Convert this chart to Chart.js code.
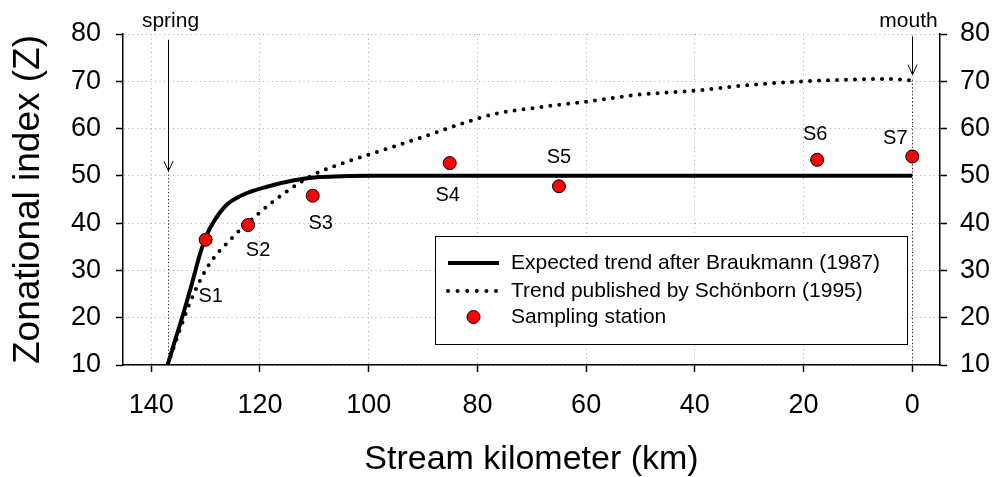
<!DOCTYPE html>
<html lang="en">
<head>
<meta charset="UTF-8">
<title>Zonational index along the stream</title>
<script src="https://cdn.jsdelivr.net/npm/chart.js@4"></script>
<style>
    html, body { margin: 0; padding: 0; background: #fff; }
    .chart-box { width: 1000px; height: 477px; }
</style>
</head>
<body>
<div class="chart-box"><canvas id="zoneChart" width="1000" height="477"></canvas></div>
<script>
    // values (stream km, 0 = mouth)
    const braukmannKm = [137, 135.6, 134.1, 132.5, 131, 129.8, 128.3, 126.1, 123.1, 118.7, 113.9, 109.6, 105, 100, 80, 60, 40, 20, 0];
    const braukmannZ = [10, 15.3, 20.9, 27.3, 33.6, 37.5, 40.7, 43.9, 46.0, 47.7, 49.0, 49.7, 49.9, 50, 50, 50, 50, 50, 50];
    const schoenbornKm = [137, 135.3, 132.8, 129.5, 125.2, 120.2, 115.1, 110.2, 103.4, 96.7, 90.1, 83.5, 76.8, 70, 60, 50, 40, 30, 20, 10, 5, 0];
    const schoenbornZ = [10, 15.6, 23.4, 31.0, 36.8, 42.1, 46.7, 50.2, 53.2, 55.7, 58.2, 60.8, 63.1, 64.3, 65.7, 67.2, 68.0, 69.2, 70.0, 70.4, 70.5, 70.2];
    const stationNames = ['S1', 'S2', 'S3', 'S4', 'S5', 'S6', 'S7'];
    const stationKm = [130, 122.2, 110.3, 85.1, 65, 17.5, 0];
    const stationZ = [36.5, 39.6, 45.8, 52.7, 47.8, 53.4, 54.1];
    const xTicks = [0, 20, 40, 60, 80, 100, 120, 140];
    const yTicks = [10, 20, 30, 40, 50, 60, 70, 80];
    const markerNames = ['spring', 'mouth'];
    const markerKm = [137, 0];
    const markerArrowTop = [78.8, 79.5];
    const markerArrowTip = [51, 71.4];
    const markerLineTop = [51, 70.2];

    // label placement (px from the point / arrow)
    const labelOffsets = [[5, 57], [10, 25], [8, 28], [-2, 32], [0, -29], [-2, -25], [-17, -18]];
    const markerTextDx = [2, -4];

    const FONT = '"Liberation Sans", Arial, sans-serif';

    const toPoints = (xs, ys) => xs.map((v, i) => ({ x: v, y: ys[i] }));

    const annotate = {
        id: 'annotate',
        afterDatasetsDraw(chart) {
            const { ctx, chartArea, scales: { x, y } } = chart;
            ctx.save();
            ctx.fillStyle = '#000';
            ctx.strokeStyle = '#000';

            // station labels
            ctx.font = '20px ' + FONT;
            ctx.textAlign = 'center';
            ctx.textBaseline = 'middle';
            stationNames.forEach((name, i) => {
                ctx.fillText(name,
                    x.getPixelForValue(stationKm[i]) + labelOffsets[i][0],
                    y.getPixelForValue(stationZ[i]) + labelOffsets[i][1]);
            });

            // spring / mouth arrows
            markerNames.forEach((name, i) => {
                const px = Math.round(x.getPixelForValue(markerKm[i])) + 0.5;
                const top = y.getPixelForValue(markerArrowTop[i]);
                const tip = y.getPixelForValue(markerArrowTip[i]);
                ctx.lineWidth = 1;
                ctx.setLineDash([]);
                ctx.beginPath();
                ctx.moveTo(px, top);
                ctx.lineTo(px, tip);
                ctx.moveTo(px - 4.5, tip - 10);
                ctx.lineTo(px, tip);
                ctx.lineTo(px + 4.5, tip - 10);
                ctx.stroke();
                ctx.setLineDash([1, 2.5]);
                ctx.beginPath();
                ctx.moveTo(px, y.getPixelForValue(markerLineTop[i]));
                ctx.lineTo(px, chartArea.bottom);
                ctx.stroke();
                ctx.setLineDash([]);
                ctx.font = '21px ' + FONT;
                ctx.textAlign = 'center';
                ctx.textBaseline = 'alphabetic';
                ctx.fillText(name, px + markerTextDx[i], 27);
            });

            // legend box
            const box = { left: 435.5, top: 236.5, right: 907.5, bottom: 344.5 };
            ctx.fillStyle = '#fff';
            ctx.fillRect(box.left, box.top, box.right - box.left, box.bottom - box.top);
            ctx.lineWidth = 1;
            ctx.strokeRect(box.left, box.top, box.right - box.left, box.bottom - box.top);

            const ds = chart.data.datasets;
            const rows = [263, 291, 317];
            const sx0 = 448, sx1 = 499, tx = 511;

            ctx.lineCap = 'butt';
            ctx.lineWidth = 4;
            ctx.beginPath();
            ctx.moveTo(sx0, rows[0]);
            ctx.lineTo(sx1, rows[0]);
            ctx.stroke();

            ctx.lineWidth = 4;
            ctx.lineCap = 'round';
            ctx.setLineDash([0, 9.6]);
            ctx.beginPath();
            ctx.moveTo(sx0, rows[1]);
            ctx.lineTo(sx1, rows[1]);
            ctx.stroke();
            ctx.setLineDash([]);

            ctx.fillStyle = '#ff0000';
            ctx.lineWidth = 1;
            ctx.beginPath();
            ctx.arc((sx0 + sx1) / 2, rows[2], 6.5, 0, Math.PI * 2);
            ctx.fill();
            ctx.stroke();

            ctx.fillStyle = '#000';
            ctx.font = '21px ' + FONT;
            ctx.textAlign = 'left';
            ctx.textBaseline = 'middle';
            ctx.fillText(ds[1].label, tx, rows[0]);
            ctx.fillText(ds[2].label, tx, rows[1]);
            ctx.fillText(ds[0].label, tx, rows[2]);
            ctx.restore();
        }
    };

    const tickFont = { family: FONT, size: 27 };
    const gridStyle = { color: '#aaaaaa', lineWidth: 1, tickColor: '#000', tickLength: 7, tickWidth: 1.5 };
    const borderStyle = { color: '#000', width: 1.5, dash: [1, 3.5] };

    new Chart(document.getElementById('zoneChart'), {
        type: 'line',
        data: {
            datasets: [{
                label: 'Sampling station',
                data: toPoints(stationKm, stationZ),
                showLine: false,
                pointRadius: 6.5,
                pointBackgroundColor: '#ff0000',
                pointBorderColor: '#000',
                pointBorderWidth: 1,
                order: 0
            }, {
                label: 'Expected trend after Braukmann (1987)',
                data: toPoints(braukmannKm, braukmannZ),
                borderColor: '#000',
                borderWidth: 4,
                pointRadius: 0,
                cubicInterpolationMode: 'monotone',
                order: 1
            }, {
                label: 'Trend published by Schönborn (1995)',
                data: toPoints(schoenbornKm, schoenbornZ),
                borderColor: '#000',
                borderWidth: 4,
                borderDash: [0, 9],
                borderCapStyle: 'round',
                pointRadius: 0,
                cubicInterpolationMode: 'monotone',
                order: 2
            }]
        },
        options: {
            responsive: false,
            animation: false,
            devicePixelRatio: 1,
            layout: { padding: { top: 34, left: 0, right: 0, bottom: 0 } },
            plugins: { legend: { display: false }, tooltip: { enabled: false } },
            scales: {
                x: {
                    type: 'linear',
                    reverse: true,
                    min: -5.1,
                    max: 145.2,
                    afterBuildTicks: s => { s.ticks = xTicks.map(v => ({ value: v })); },
                    afterFit: s => { s.height = 112; },
                    grid: gridStyle,
                    border: borderStyle,
                    ticks: { font: tickFont, color: '#000', padding: 17, maxRotation: 0 },
                    title: {
                        display: true,
                        text: 'Stream kilometer (km)',
                        color: '#000',
                        font: { family: FONT, size: 34, lineHeight: 1 },
                        padding: { top: 0, bottom: 0 }
                    }
                },
                y: {
                    position: 'left',
                    min: 10,
                    max: 80,
                    afterBuildTicks: s => { s.ticks = yTicks.map(v => ({ value: v })); },
                    afterFit: s => { s.width = 123; },
                    grid: gridStyle,
                    border: borderStyle,
                    ticks: { font: tickFont, color: '#000', padding: 15 },
                    title: {
                        display: true,
                        text: 'Zonational index (Z)',
                        color: '#000',
                        font: { family: FONT, size: 37, lineHeight: 1 },
                        padding: { top: 10, bottom: 0 }
                    }
                },
                y2: {
                    position: 'right',
                    min: 10,
                    max: 80,
                    afterBuildTicks: s => { s.ticks = yTicks.map(v => ({ value: v })); },
                    afterFit: s => { s.width = 60; },
                    grid: Object.assign({}, gridStyle, { drawOnChartArea: false }),
                    border: borderStyle,
                    ticks: { font: tickFont, color: '#000', padding: 13 }
                }
            }
        },
        plugins: [annotate]
    });
</script>
</body>
</html>
